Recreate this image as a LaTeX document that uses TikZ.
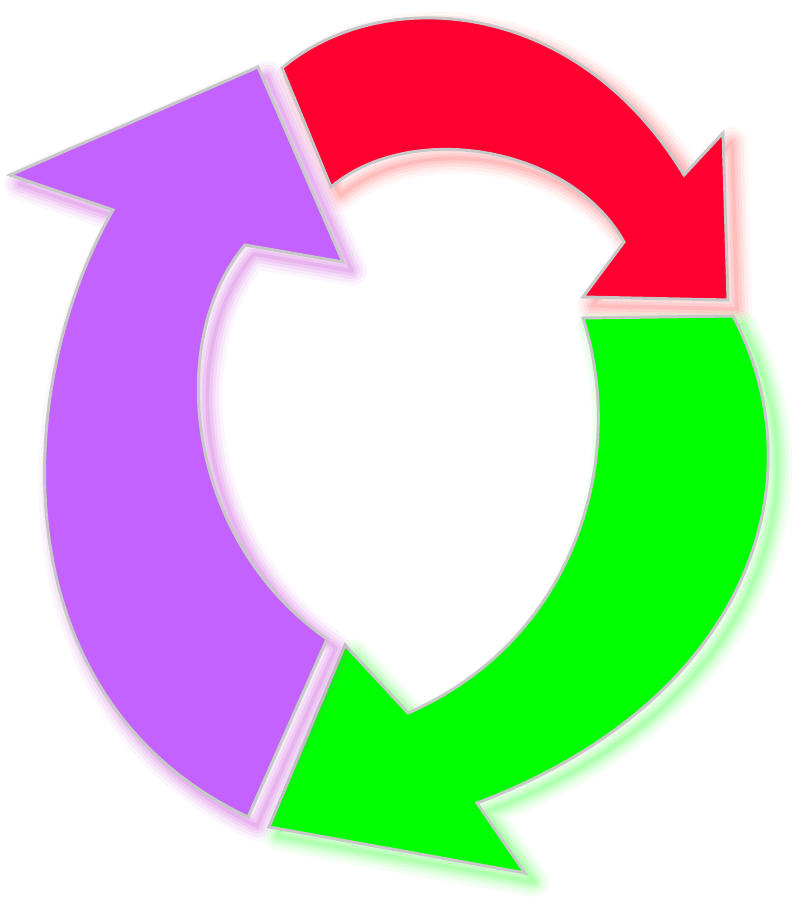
\documentclass[tikz,border=0pt]{standalone}
\usepackage{tikz}
\definecolor{arrRed}{HTML}{FF0030}
\definecolor{arrGreen}{HTML}{00FF00}
\definecolor{arrPurple}{HTML}{C462FF}
\definecolor{rim}{HTML}{C8C8C8}
\definecolor{glowRed}{HTML}{FF7070}
\definecolor{glowGreen}{HTML}{50FF50}
\definecolor{glowPurple}{HTML}{D060E0}
\tikzset{
  arrowshape/.style={draw=rim, line width=3pt, line join=miter},
}
\def\redpath{(282,68) .. controls (380,-15) and (575,-5) .. (684,175) -- (723,133) -- (728,300) -- (583,297) -- (624,242) .. controls (570,145) and (410,120) .. (331,187) -- cycle}
\def\greenpath{(583,318) -- (733,316) .. controls (820,480) and (750,700) .. (477,803) -- (525,873) -- (269,827) -- (345,645) -- (408,713) .. controls (575,640) and (628,460) .. cycle}
\def\purplepath{(248,817) -- (327,639) .. controls (185,540) and (165,340) .. (245,245) -- (343,262) -- (258,67) -- (10,175) -- (113,210) .. controls (10,390) and (0,700) .. cycle}
\newcommand{\glowit}[2]{%
  \foreach \w/\o in {30/0.06,23/0.08,16/0.11,10/0.14,4/0.18}{%
    \draw[shift={(9pt,-9pt)}, draw=#1, line width=\w pt, opacity=\o, line join=round] #2;
  }%
}
\begin{document}
\begin{tikzpicture}[x=1pt,y=-1pt]
\useasboundingbox (0,0) rectangle (809,917);
\fill[white] (0,0) rectangle (809,917);
% red
\glowit{glowRed}{\redpath}
\filldraw[arrowshape, fill=arrRed] \redpath;
% green
\glowit{glowGreen}{\greenpath}
\filldraw[arrowshape, fill=arrGreen] \greenpath;
% purple
\glowit{glowPurple}{\purplepath}
\filldraw[arrowshape, fill=arrPurple] \purplepath;
\end{tikzpicture}
\end{document}
